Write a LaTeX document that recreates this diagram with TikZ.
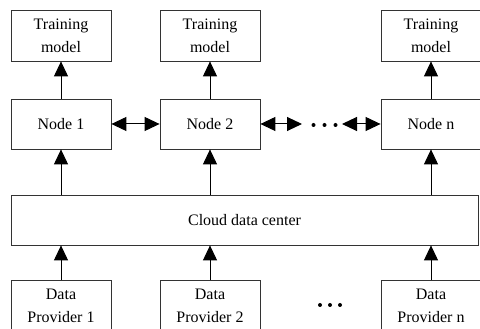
\documentclass[tikz,border=0pt]{standalone}
\usepackage{fontspec}
\setmainfont{Liberation Serif}
\usetikzlibrary{arrows.meta}
\begin{document}
\begin{tikzpicture}[x=1pt,y=1pt,
  box/.style={draw=black!80,line width=0.8pt,minimum width=100pt,minimum height=51pt,inner sep=0pt,align=center,
    font=\fontsize{16}{23}\selectfont},
  dot/.style={circle,fill=black,inner sep=0pt,minimum size=4pt},
  arr/.style={line width=1pt,-{Triangle[length=15pt,width=14pt]}},
  darr/.style={line width=1pt,{Triangle[length=15pt,width=14pt]}-{Triangle[length=15pt,width=14pt]}}]
\useasboundingbox (0,0) rectangle (480,329);
% training models
\node[box] (t1) at (61,293.5) {Training\\model};
\node[box] (t2) at (210,293.5) {Training\\model};
\node[box] (tn) at (431,293.5) {Training\\model};
% nodes
\node[box,minimum height=50pt] (n1) at (61,205) {Node 1};
\node[box,minimum height=50pt] (n2) at (210,205) {Node 2};
\node[box,minimum height=50pt] (nn) at (431,205) {Node n};
% cloud
\node[box,minimum width=467pt,minimum height=50pt] (c) at (244.5,109) {Cloud data center};
% providers
\node[box] (p1) at (61,23.5) {Data\\Provider 1};
\node[box] (p2) at (210,23.5) {Data\\Provider 2};
\node[box] (pn) at (431,23.5) {Data\\Provider n};
% dots
\node[dot] (da) at (313.5,204) {};
\node[dot] (db) at (324.5,204) {};
\node[dot] (dc) at (335.5,204) {};
\node[dot] (ea) at (320,24) {};
\node[dot] (eb) at (330,24) {};
\node[dot] (ec) at (340,24) {};
\coordinate (dl) at (302,205);
\coordinate (dr) at (342,205);
% arrows
\draw[arr] (n1) -- (t1);
\draw[arr] (n2) -- (t2);
\draw[arr] (nn) -- (tn);
\draw[arr] (c.north -| n1) -- (n1);
\draw[arr] (c.north -| n2) -- (n2);
\draw[arr] (c.north -| nn) -- (nn);
\draw[arr] (p1) -- (c.south -| p1);
\draw[arr] (p2) -- (c.south -| p2);
\draw[arr] (pn) -- (c.south -| pn);
\draw[darr] (n1) -- (n2);
\draw[darr] (n2) -- (dl);
\draw[darr] (dr) -- (nn);
\end{tikzpicture}
\end{document}
